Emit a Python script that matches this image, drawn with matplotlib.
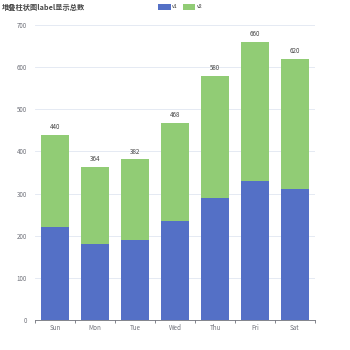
import matplotlib.pyplot as plt
import numpy as np

plt.rcParams['font.family'] = ['Noto Sans CJK SC', 'DejaVu Sans']

days = ['Sun', 'Mon', 'Tue', 'Wed', 'Thu', 'Fri', 'Sat']
v1 = [220, 180, 190, 234, 290, 330, 310]
v2 = [220, 184, 192, 234, 290, 330, 310]
totals = [440, 364, 382, 468, 580, 660, 620]

fig = plt.figure(figsize=(3.5, 3.5), dpi=100)
ax = fig.add_axes([35 / 350, 30 / 350, 280 / 350, 295 / 350])

x = np.arange(len(days))
w = 0.7
ax.bar(x, v1, w, color='#5470c6', label='v1')
ax.bar(x, v2, w, bottom=v1, color='#91cc75', label='v2')
for i, t in enumerate(totals):
    ax.text(x[i], t + 8, str(t), ha='center', va='bottom', fontsize=4.5, color='#444444')

ax.set_xlim(-0.5, len(days) - 0.5)
ax.set_ylim(0, 700)
ax.set_yticks(np.arange(0, 701, 100))
ax.set_xticks(x)
ax.set_xticklabels(days)
ax.set_xticks(np.arange(-0.5, len(days)), minor=True)
ax.tick_params(axis='x', which='major', length=0, labelsize=4.5, labelcolor='#6e7079', pad=3)
ax.tick_params(axis='x', which='minor', length=2.5, color='#6e7079')
ax.tick_params(axis='y', length=0, labelsize=4.5, labelcolor='#6e7079', pad=6)
ax.grid(axis='y', color='#e0e6f1', linewidth=0.6)
ax.set_axisbelow(True)
for s in ['top', 'right', 'left']:
    ax.spines[s].set_visible(False)
ax.spines['bottom'].set_color('#6e7079')
ax.spines['bottom'].set_linewidth(0.6)

fig.text(2 / 350, 1 - 7 / 350, '堆叠柱状图label显示总数', fontsize=5.2, fontweight='bold',
         family='Noto Sans CJK SC', color='#464646', va='center', ha='left')
ax.legend(loc='upper center', bbox_to_anchor=(0.52, 1 + 26 / 295), ncol=2, frameon=False,
          fontsize=3.8, handlelength=2.3, handleheight=1.3, columnspacing=1.0,
          handletextpad=0.3, labelcolor='#333333')

fig.savefig('out.png', dpi=100)
